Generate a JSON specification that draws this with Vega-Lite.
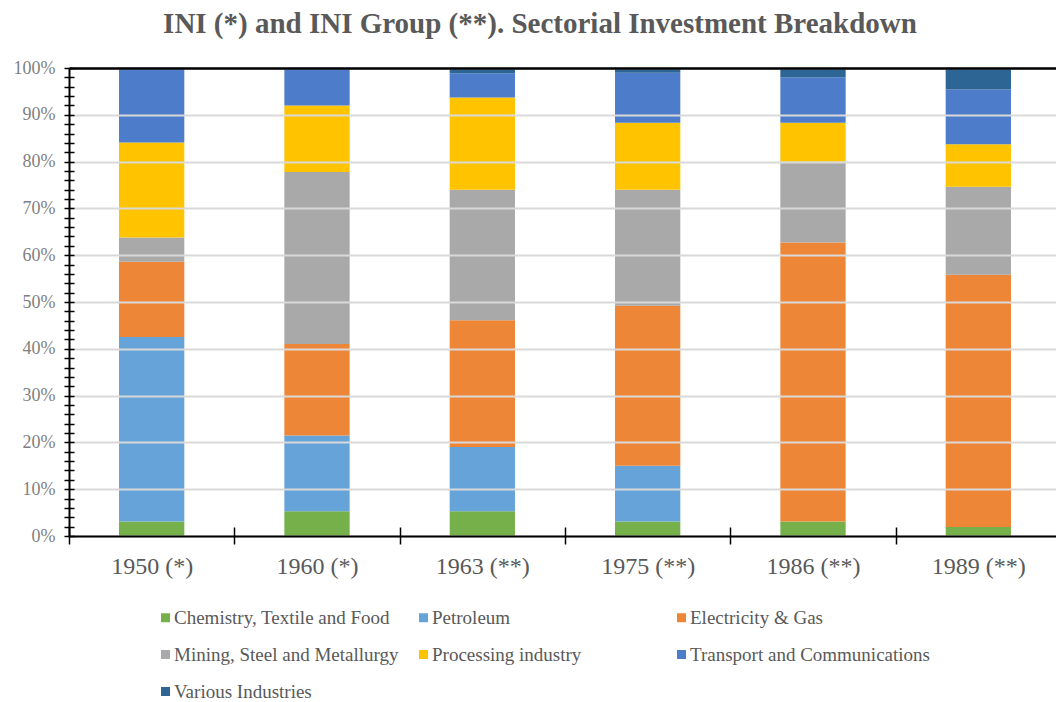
{
  "$schema": "https://vega.github.io/schema/vega-lite/v6.json",
  "autosize": {"type": "none"},
  "padding": {"left": 69, "top": 68, "right": 1, "bottom": 166},
  "width": 986,
  "height": 468,
  "background": "white",
  "title": {
    "text": "INI (*) and INI Group (**). Sectorial Investment Breakdown",
    "font": "Liberation Serif",
    "fontSize": 29,
    "fontWeight": "bold",
    "color": "#595959",
    "anchor": "middle",
    "frame": "group",
    "dx": -22,
    "offset": 20
  },
  "data": {
    "values": [
      {"period": "1950 (*)", "sector": "Chemistry, Textile and Food", "rank": 1, "share": 3.1},
      {"period": "1950 (*)", "sector": "Petroleum", "rank": 2, "share": 39.4},
      {"period": "1950 (*)", "sector": "Electricity & Gas", "rank": 3, "share": 16.1},
      {"period": "1950 (*)", "sector": "Mining, Steel and Metallurgy", "rank": 4, "share": 5.2},
      {"period": "1950 (*)", "sector": "Processing industry", "rank": 5, "share": 20.3},
      {"period": "1950 (*)", "sector": "Transport and Communications", "rank": 6, "share": 15.9},
      {"period": "1950 (*)", "sector": "Various Industries", "rank": 7, "share": 0},
      {"period": "1960 (*)", "sector": "Chemistry, Textile and Food", "rank": 1, "share": 5.3},
      {"period": "1960 (*)", "sector": "Petroleum", "rank": 2, "share": 16.2},
      {"period": "1960 (*)", "sector": "Electricity & Gas", "rank": 3, "share": 19.5},
      {"period": "1960 (*)", "sector": "Mining, Steel and Metallurgy", "rank": 4, "share": 36.8},
      {"period": "1960 (*)", "sector": "Processing industry", "rank": 5, "share": 14.2},
      {"period": "1960 (*)", "sector": "Transport and Communications", "rank": 6, "share": 8.0},
      {"period": "1960 (*)", "sector": "Various Industries", "rank": 7, "share": 0},
      {"period": "1963 (**)", "sector": "Chemistry, Textile and Food", "rank": 1, "share": 5.3},
      {"period": "1963 (**)", "sector": "Petroleum", "rank": 2, "share": 13.7},
      {"period": "1963 (**)", "sector": "Electricity & Gas", "rank": 3, "share": 27.1},
      {"period": "1963 (**)", "sector": "Mining, Steel and Metallurgy", "rank": 4, "share": 27.9},
      {"period": "1963 (**)", "sector": "Processing industry", "rank": 5, "share": 19.7},
      {"period": "1963 (**)", "sector": "Transport and Communications", "rank": 6, "share": 5.2},
      {"period": "1963 (**)", "sector": "Various Industries", "rank": 7, "share": 1.1},
      {"period": "1975 (**)", "sector": "Chemistry, Textile and Food", "rank": 1, "share": 3.1},
      {"period": "1975 (**)", "sector": "Petroleum", "rank": 2, "share": 11.9},
      {"period": "1975 (**)", "sector": "Electricity & Gas", "rank": 3, "share": 34.2},
      {"period": "1975 (**)", "sector": "Mining, Steel and Metallurgy", "rank": 4, "share": 24.8},
      {"period": "1975 (**)", "sector": "Processing industry", "rank": 5, "share": 14.3},
      {"period": "1975 (**)", "sector": "Transport and Communications", "rank": 6, "share": 10.7},
      {"period": "1975 (**)", "sector": "Various Industries", "rank": 7, "share": 1.0},
      {"period": "1986 (**)", "sector": "Chemistry, Textile and Food", "rank": 1, "share": 3.1},
      {"period": "1986 (**)", "sector": "Petroleum", "rank": 2, "share": 0},
      {"period": "1986 (**)", "sector": "Electricity & Gas", "rank": 3, "share": 59.6},
      {"period": "1986 (**)", "sector": "Mining, Steel and Metallurgy", "rank": 4, "share": 17.3},
      {"period": "1986 (**)", "sector": "Processing industry", "rank": 5, "share": 8.3},
      {"period": "1986 (**)", "sector": "Transport and Communications", "rank": 6, "share": 9.7},
      {"period": "1986 (**)", "sector": "Various Industries", "rank": 7, "share": 2.0},
      {"period": "1989 (**)", "sector": "Chemistry, Textile and Food", "rank": 1, "share": 1.9},
      {"period": "1989 (**)", "sector": "Petroleum", "rank": 2, "share": 0},
      {"period": "1989 (**)", "sector": "Electricity & Gas", "rank": 3, "share": 53.9},
      {"period": "1989 (**)", "sector": "Mining, Steel and Metallurgy", "rank": 4, "share": 18.8},
      {"period": "1989 (**)", "sector": "Processing industry", "rank": 5, "share": 9.1},
      {"period": "1989 (**)", "sector": "Transport and Communications", "rank": 6, "share": 11.7},
      {"period": "1989 (**)", "sector": "Various Industries", "rank": 7, "share": 4.6}
    ]
  },
  "layer": [
    {
      "mark": {"type": "bar", "width": {"band": 0.395}},
      "encoding": {
        "x": {
          "field": "period", "type": "nominal", "sort": null,
          "scale": {"paddingInner": 0, "paddingOuter": 0, "range": [0, 992]},
          "axis": {
            "orient": "bottom", "title": null, "labelAngle": 0,
            "labelFont": "Liberation Serif", "labelFontSize": 24, "labelColor": "#595959",
            "labelPadding": 10, "tickBand": "extent",
            "domainColor": "#000000", "domainWidth": 2,
            "tickColor": "#000000", "tickWidth": 1.5, "tickSize": 8,
            "grid": false, "zindex": 1
          }
        },
        "y": {
          "field": "share", "type": "quantitative", "stack": "normalize",
          "scale": {"domain": [0, 1]},
          "axis": {
            "orient": "left", "title": null, "format": "%",
            "values": [0,0.02,0.04,0.06,0.08,0.1,0.12,0.14,0.16,0.18,0.2,0.22,0.24,0.26,0.28,0.3,0.32,0.34,0.36,0.38,0.4,0.42,0.44,0.46,0.48,0.5,0.52,0.54,0.56,0.58,0.6,0.62,0.64,0.66,0.68,0.7,0.72,0.74,0.76,0.78,0.8,0.82,0.84,0.86,0.88,0.9,0.92,0.94,0.96,0.98,1],
            "labelExpr": "round(datum.value*100) % 10 === 0 ? datum.label : ''",
            "labelFont": "Liberation Serif", "labelFontSize": 18, "labelColor": "#7f7f7f",
            "labelPadding": 9,
            "domainColor": "#000000", "domainWidth": 2,
            "tickColor": "#000000", "tickWidth": 1.5, "tickSize": 5,
            "grid": true, "gridColor": "#d9d9d9", "gridWidth": 2,
            "gridOpacity": {"condition": {"test": "round(datum.value*100) % 10 === 0", "value": 1}, "value": 0},
            "zindex": 1
          }
        },
        "order": {"field": "rank", "type": "quantitative", "sort": "ascending"},
        "color": {
          "field": "sector", "type": "nominal",
          "sort": ["Chemistry, Textile and Food", "Petroleum", "Electricity & Gas", "Mining, Steel and Metallurgy", "Processing industry", "Transport and Communications", "Various Industries"],
          "scale": {
            "domain": ["Chemistry, Textile and Food", "Petroleum", "Electricity & Gas", "Mining, Steel and Metallurgy", "Processing industry", "Transport and Communications", "Various Industries"],
            "range": ["#76B04B", "#65A3D9", "#EE8638", "#A9A9A9", "#FFC300", "#4D7DCA", "#2D6595"]
          },
          "legend": {
            "title": null, "orient": "none", "legendX": 87, "legendY": 540,
            "direction": "horizontal", "gridAlign": "all",
            "columns": 3, "columnPadding": -2, "rowPadding": 17,
            "padding": 0,
            "labelFont": "Liberation Serif", "labelFontSize": 19, "labelColor": "#595959",
            "labelOffset": -1, "labelLimit": 400,
            "symbolType": "square", "symbolSize": 81, "symbolStrokeWidth": 0
          }
        }
      }
    },
    {
      "mark": {"type": "bar", "opacity": 0, "width": {"band": 0.395}},
      "encoding": {
        "x": {
          "field": "period", "type": "nominal", "sort": null,
          "axis": {
            "orient": "top", "title": null, "labels": false, "ticks": false,
            "domainColor": "#000000", "domainWidth": 2.5, "grid": false, "zindex": 1
          }
        },
        "y": {
          "field": "share", "type": "quantitative", "stack": "normalize",
          "axis": {
            "orient": "right", "offset": -986, "title": null, "labels": false, "domain": false,
            "values": [0,0.02,0.04,0.06,0.08,0.1,0.12,0.14,0.16,0.18,0.2,0.22,0.24,0.26,0.28,0.3,0.32,0.34,0.36,0.38,0.4,0.42,0.44,0.46,0.48,0.5,0.52,0.54,0.56,0.58,0.6,0.62,0.64,0.66,0.68,0.7,0.72,0.74,0.76,0.78,0.8,0.82,0.84,0.86,0.88,0.9,0.92,0.94,0.96,0.98,1],
            "tickColor": "#000000", "tickWidth": 1.5, "tickSize": 5,
            "grid": false, "zindex": 1
          }
        }
      }
    },
    {
      "mark": {"type": "bar", "opacity": 0, "width": {"band": 0.395}},
      "encoding": {
        "x": {
          "field": "period", "type": "nominal", "sort": null,
          "axis": {
            "orient": "top", "offset": -468, "title": null, "labels": false, "domain": false,
            "tickBand": "extent", "tickColor": "#000000", "tickWidth": 1.5, "tickSize": 9,
            "grid": false, "zindex": 1
          }
        },
        "y": {"field": "share", "type": "quantitative", "stack": "normalize", "axis": null}
      }
    }
  ],
  "resolve": {"axis": {"x": "independent", "y": "independent"}},
  "config": {
    "view": {"stroke": null},
    "axis": {"labelFont": "Liberation Serif"}
  }
}
